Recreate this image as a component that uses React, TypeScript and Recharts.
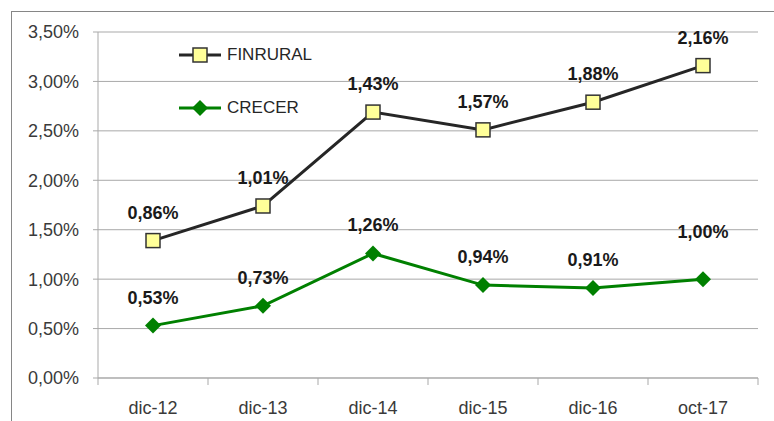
import { ComposedChart, Area, XAxis, YAxis, CartesianGrid, LabelList } from 'recharts';

const periods = ['dic-12', 'dic-13', 'dic-14', 'dic-15', 'dic-16', 'oct-17'];
const finrural = [0.86, 1.01, 1.43, 1.57, 1.88, 2.16];
const crecer = [0.53, 0.73, 1.26, 0.94, 0.91, 1.0];
const yTicks = [0, 0.5, 1, 1.5, 2, 2.5, 3, 3.5];

// stacked: CRECER at the bottom, FINRURAL drawn on top of it
const data = periods.map((name, i) => ({ name, crecer: crecer[i], finrural: finrural[i] }));

const FONT = '"Liberation Sans", Arial, sans-serif';
const GRID = '#a9a9a9';
const DARK = '#262626';
const GREEN = '#008000';
const YELLOW = '#FFFF99';

const fmt = (v: number) => v.toFixed(2).replace('.', ',') + '%';

const Square = (p: any) => {
  if (p.cx == null) return <g />;
  return <rect x={p.cx - 7} y={p.cy - 7} width={14} height={14} fill={YELLOW} stroke="#333" strokeWidth={1.5} />;
};

const Diamond = (p: any) => {
  if (p.cx == null) return <g />;
  const { cx, cy } = p;
  return <path d={`M${cx},${cy - 8}L${cx + 8},${cy}L${cx},${cy + 8}L${cx - 8},${cy}Z`} fill={GREEN} />;
};

const makeLabel = (values: number[], lastLift: number) => (p: any) => {
  const { x, y, index } = p;
  const lift = index === values.length - 1 ? lastLift : 28;
  return (
    <text x={x} y={y - lift} textAnchor="middle" dominantBaseline="central"
      fontFamily={FONT} fontSize={18} fontWeight="bold" fill="#1a1a1a">
      {fmt(values[index])}
    </text>
  );
};

const XTick = (p: any) => {
  const { x, y, payload, index } = p;
  const half = 55;
  return (
    <g>
      <line x1={x - half} x2={x - half} y1={y} y2={y + 7} stroke={GRID} />
      {index === periods.length - 1 && <line x1={x + half} x2={x + half} y1={y} y2={y + 7} stroke={GRID} />}
      <text x={x} y={y + 30} textAnchor="middle" dominantBaseline="central"
        fontFamily={FONT} fontSize={18} fill="#3a3a3a">
        {payload.value}
      </text>
    </g>
  );
};

const LegendBox = () => {
  const items = [
    { label: 'FINRURAL', color: DARK, marker: <rect x={14} y={1} width={14} height={14} fill={YELLOW} stroke="#333" strokeWidth={1.5} /> },
    { label: 'CRECER', color: GREEN, marker: <path d="M21,0L29,8L21,16L13,8Z" fill={GREEN} /> },
  ];
  return (
    <div style={{ position: 'absolute', left: 179, top: 47 }}>
      {items.map((it, i) => (
        <div key={it.label} style={{ display: 'flex', alignItems: 'center', height: 16, marginBottom: i === 0 ? 37 : 0 }}>
          <svg width={42} height={16}>
            <line x1={0} x2={42} y1={8} y2={8} stroke={it.color} strokeWidth={3} />
            {it.marker}
          </svg>
          <span style={{ marginLeft: 6, fontFamily: FONT, fontSize: 17, color: '#262626' }}>{it.label}</span>
        </div>
      ))}
    </div>
  );
};

export default function App() {
  return (
    <div style={{ position: 'absolute', left: 0, top: 0, width: 774, height: 421, background: '#fff', overflow: 'hidden' }}>
      <div style={{ position: 'absolute', left: 11, top: 11, width: 800, height: 420, borderLeft: '1px solid #868686', borderTop: '1px solid #868686' }} />
      <div style={{ position: 'absolute', left: 0, top: 0 }}>
        <ComposedChart width={774} height={421} data={data} margin={{ top: 32, right: 16, bottom: 13, left: 0 }}>
          <CartesianGrid vertical={false} stroke={GRID} />
          <XAxis dataKey="name" scale="band" height={30} interval={0} tickSize={0} tickMargin={0}
            axisLine={{ stroke: GRID }} tickLine={false} tick={<XTick />} />
          <YAxis width={98} domain={[0, 3.5]} ticks={yTicks} tickFormatter={fmt}
            axisLine={{ stroke: GRID }} tickLine={{ stroke: GRID }} tickSize={5} tickMargin={14}
            tick={{ fill: '#3a3a3a', fontSize: 18, fontFamily: FONT }} />
          <Area type="linear" dataKey="crecer" name="CRECER" stackId="s" stroke={GREEN} strokeWidth={3}
            fill="none" fillOpacity={0} dot={Diamond} activeDot={false} isAnimationActive={false}>
            <LabelList dataKey="crecer" content={makeLabel(crecer, 47)} />
          </Area>
          <Area type="linear" dataKey="finrural" name="FINRURAL" stackId="s" stroke={DARK} strokeWidth={3}
            fill="none" fillOpacity={0} dot={Square} activeDot={false} isAnimationActive={false}>
            <LabelList dataKey="finrural" content={makeLabel(finrural, 28)} />
          </Area>
        </ComposedChart>
      </div>
      <LegendBox />
    </div>
  );
}
